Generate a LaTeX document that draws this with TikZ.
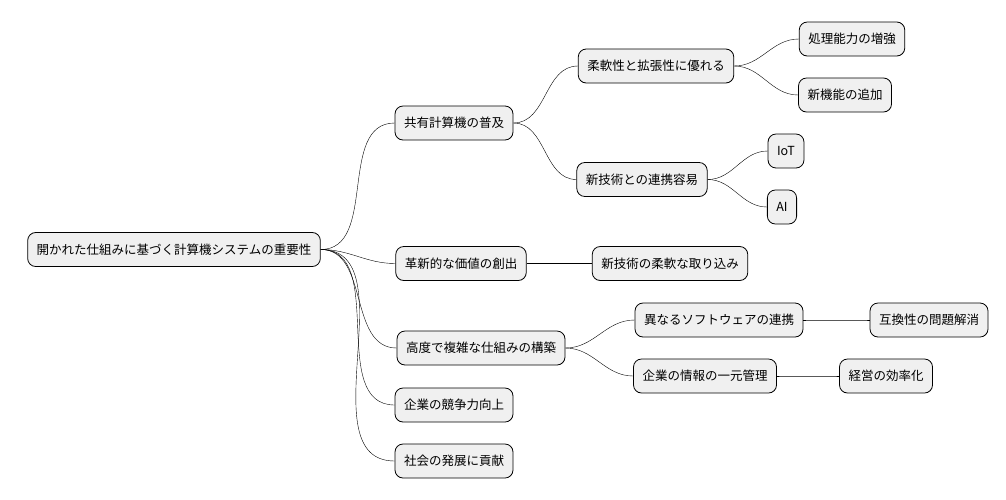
\documentclass[tikz,border=0pt]{standalone}
\usepackage{fontspec}
\setmainfont{Noto Sans CJK JP}
\begin{document}
\begin{tikzpicture}[x=1pt,y=-1pt,
  box/.style={draw=black,fill=black!6,rounded corners=8pt,line width=0.8pt,minimum height=34pt,inner xsep=9pt,font=\fontsize{12.5}{14}\selectfont},
  ln/.style={line width=0.7pt,out=0,in=180}]
\useasboundingbox (0,0) rectangle (1006,499);
\node[box] (r) at (174,249.5) {開かれた仕組みに基づく計算機システムの重要性};
\node[box] (a) at (454,123) {共有計算機の普及};
\node[box] (a1) at (656,66) {柔軟性と拡張性に優れる};
\node[box] (a11) at (852,39) {処理能力の増強};
\node[box] (a12) at (845,95) {新機能の追加};
\node[box] (a2) at (642,179.5) {新技術との連携容易};
\node[box] (a21) at (786,151) {IoT};
\node[box] (a22) at (782,207) {AI};
\node[box] (b) at (461,263.5) {革新的な価値の創出};
\node[box] (b1) at (670,263.5) {新技術の柔軟な取り込み};
\node[box] (c) at (481,348) {高度で複雑な仕組みの構築};
\node[box] (c1) at (719,320) {異なるソフトウェアの連携};
\node[box] (c11) at (929,320) {互換性の問題解消};
\node[box] (c2) at (705,376) {企業の情報の一元管理};
\node[box] (c21) at (886,376) {経営の効率化};
\node[box] (d) at (454,405) {企業の競争力向上};
\node[box] (e) at (454,461) {社会の発展に貢献};
\foreach \p/\c in {r/a,r/b,r/c,r/d,r/e,a/a1,a/a2,a1/a11,a1/a12,a2/a21,a2/a22,b/b1,c/c1,c/c2,c1/c11,c2/c21}
  \draw (\p.east) to[ln] (\c.west);
\end{tikzpicture}
\end{document}
